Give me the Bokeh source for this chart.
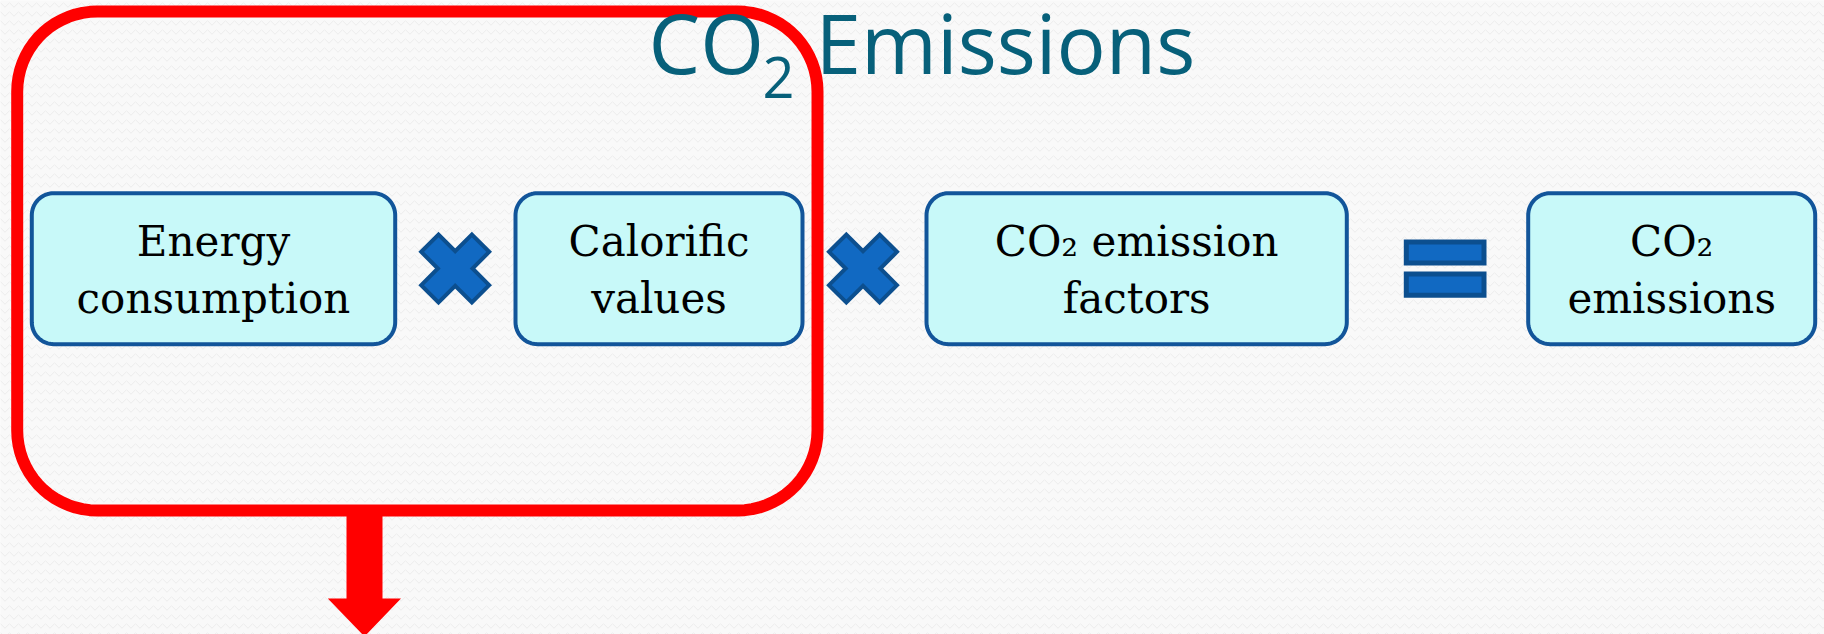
import numpy as np
from bokeh.plotting import figure
from bokeh.models import Range1d
from bokeh.core.properties import value
from bokeh.embed import file_html
from bokeh.resources import INLINE

# ---- content ----
title_parts = ["CO", "2", "Emissions"]
box_line1 = ["Energy", "Calorific", "CO\u2082 emission", "CO\u2082"]
box_line2 = ["consumption", "values", "factors", "emissions"]
operators = ["times", "times", "equals"]

# ---- layout (reference pixel coordinates) ----
W, H = 1824, 634
box_left = [29.3, 513.0, 924.0, 1525.7]
box_right = [396.7, 804.0, 1348.3, 1816.7]
box_top, box_bottom = 190.7, 345.7
op_x = [454.7, 862.5, 1444.7]
op_y = 268.0
BOX_FS = 42
TITLE_FS = 82
SUB_FS = 56
SHIFT = 0.4  # baseline correction factor (fraction of font size)

p = figure(width=W, height=H, output_backend="svg", toolbar_location=None,
           x_range=Range1d(0, W), y_range=Range1d(H, 0),
           min_border=0)
p.axis.visible = False
p.grid.visible = False
p.outline_line_color = None
p.background_fill_color = "#f9f9f9"
p.border_fill_color = "#f9f9f9"

# textured background
p.quad(left=[-10], right=[1840], top=[-10], bottom=[650], fill_color="#f9f9f9",
       line_color=None, hatch_pattern="horizontal_wave", hatch_color="#ececec",
       hatch_scale=9, hatch_weight=1)


def rounded_rect(x0, x1, y0, y1, r, n=18):
    xs, ys = [], []
    corners = [(x1 - r, y0 + r, -np.pi / 2, 0.0),
               (x1 - r, y1 - r, 0.0, np.pi / 2),
               (x0 + r, y1 - r, np.pi / 2, np.pi),
               (x0 + r, y0 + r, np.pi, 1.5 * np.pi)]
    for cx, cy, a0, a1 in corners:
        t = np.linspace(a0, a1, n)
        xs.extend(cx + r * np.cos(t))
        ys.extend(cy + r * np.sin(t))
    return xs, ys


# red grouping frame
fx, fy = rounded_rect(16.7, 817.0, 11.0, 510.0, 80)
p.patch(fx + [fx[0]], fy + [fy[0]], fill_alpha=0, line_color="#ff0000", line_width=12)

# arrow
ax = [346, 382, 382, 400.5, 364, 327.3, 346]
ay = [505, 505, 598, 598, 636, 598, 598]
p.patch(ax, ay, fill_color="#ff0000", line_color=None)

# boxes
bxs, bys = [], []
for l, r in zip(box_left, box_right):
    xs, ys = rounded_rect(l + 2, r - 2, box_top + 2, box_bottom - 2, 22)
    bxs.append(xs)
    bys.append(ys)
p.patches(bxs, bys, fill_color="#c8f9f9", line_color="#12559a", line_width=4)

# box texts (centred vertically on each line)
centers = [(l + r) / 2 for l, r in zip(box_left, box_right)]
p.text(x=centers, y=[241.0] * 4, text=box_line1,
       text_font=value("DejaVu Serif"), text_font_size=f"{BOX_FS}px",
       text_align="center", text_baseline="middle", text_color="#000000")
p.text(x=centers, y=[298.0] * 4, text=box_line2,
       text_font=value("DejaVu Serif"), text_font_size=f"{BOX_FS}px",
       text_align="center", text_baseline="middle", text_color="#000000")


# operators
def x_shape(cx, cy, half=34.0, w=24.5):
    L = half * np.sqrt(2) - w / 2
    s = 1 / np.sqrt(2)
    arms = [np.array([s, s]), np.array([-s, s]), np.array([-s, -s]), np.array([s, -s])]
    pts = []
    c = np.array([cx, cy])
    for i, u in enumerate(arms):
        v = np.array([-u[1], u[0]])
        pts.append(c + L * u - (w / 2) * v)
        pts.append(c + L * u + (w / 2) * v)
        nxt = arms[(i + 1) % 4]
        bis = (u + nxt) / np.linalg.norm(u + nxt)
        pts.append(c + bis * (w / 2) * np.sqrt(2))
    pts = np.array(pts)
    return list(pts[:, 0]), list(pts[:, 1])


for kind, ox in zip(operators, op_x):
    if kind == "times":
        xs, ys = x_shape(ox, op_y)
        p.patch(xs, ys, fill_color="#1169c2", line_color="#0c4f8f", line_width=4,
                line_join="miter")
    else:
        p.quad(left=[ox - 38.9, ox - 38.9], right=[ox + 38.8, ox + 38.8],
               top=[241.5, 273.5], bottom=[262.5, 294.8],
               fill_color="#1169c2", line_color="#0c4f8f", line_width=5,
               line_join="miter")

# title
title_color = "#07607a"
p.text(x=[648], y=[74 - SHIFT * TITLE_FS], text=[title_parts[0]],
       text_font=value("Open Sans"), text_font_size=f"{TITLE_FS}px",
       text_align="left", text_baseline="alphabetic", text_color=title_color)
p.text(x=[762], y=[99 - SHIFT * SUB_FS], text=[title_parts[1]],
       text_font=value("Open Sans"), text_font_size=f"{SUB_FS}px",
       text_align="left", text_baseline="alphabetic", text_color=title_color)
p.text(x=[815], y=[74 - SHIFT * TITLE_FS], text=[title_parts[2]],
       text_font=value("Open Sans"), text_font_size=f"{TITLE_FS}px",
       text_align="left", text_baseline="alphabetic", text_color=title_color)

open("out.html", "w").write(file_html(p, INLINE))
